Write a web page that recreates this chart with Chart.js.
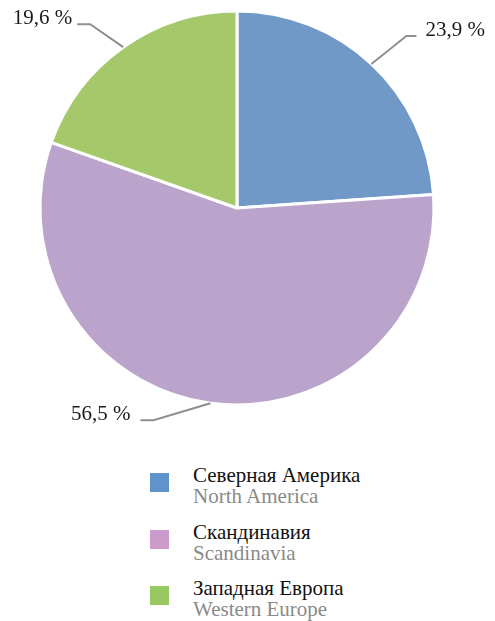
<!DOCTYPE html>
<html lang="ru">
<head>
<meta charset="utf-8">
<script src="https://cdn.jsdelivr.net/npm/chart.js@4/dist/chart.umd.min.js"></script>
<style>
  html, body { margin:0; padding:0; background:#fff; }
  body { width:495px; height:621px; position:relative; overflow:hidden; font-family:"Liberation Serif", "DejaVu Serif", serif; }
  #wrap { position:absolute; left:0; top:0; width:495px; height:440px; }
  #legenda { position:absolute; left:150px; top:464px; }
  .leg-item { display:flex; align-items:flex-start; height:44px; margin-bottom:12.5px; }
  .leg-cor { width:19px; height:19px; margin-top:9px; margin-right:24px; flex:none; }
  .leg-ru { font-size:21px; line-height:22px; color:#111; }
  .leg-en { font-size:21px; line-height:21px; color:#8a8a8a; }
</style>
</head>
<body>
<div id="wrap"><canvas id="grafico" width="495" height="440"></canvas></div>
<div id="legenda"></div>

<script>
// ─── DADOS ───────────────────────────────────────────────────────────────────
const regioesRu = ["Северная Америка", "Скандинавия", "Западная Европа"];
const regioesEn = ["North America", "Scandinavia", "Western Europe"];
const percentuais = [23.9, 56.5, 19.6];
const cores = ["#7199c8", "#bba4cb", "#a5c86a"];
const coresLegenda = ["#5f93cb", "#cc9acb", "#97c862"];

// leader lines: elbow offset from slice edge, horizontal tail, text gap
const guias = [
  { dx: 35, dy: -28, cauda: 10, gap: 9 },
  { dx: -57, dy: 17, cauda: 13, gap: 10 },
  { dx: -33, dy: -23, cauda: 13, gap: 5 }
];

function formatarPct(v){
  return v.toFixed(1).replace(".", ",") + " %";
}

// ─── RÓTULOS COM LINHAS ──────────────────────────────────────────────────────
const rotulosPlugin = {
  id: "rotulos",
  afterDatasetsDraw(chart){
    const ctx = chart.ctx;
    const meta = chart.getDatasetMeta(0);
    ctx.save();
    ctx.font = '21px "Liberation Serif", serif';
    ctx.fillStyle = "#1a1a1a";
    ctx.strokeStyle = "#8f8f8f";
    ctx.lineWidth = 2;
    meta.data.forEach((arc, i) => {
      const p = arc.getProps(["x", "y", "startAngle", "endAngle", "outerRadius"], true);
      const meio = (p.startAngle + p.endAngle) / 2;
      const bx = p.x + Math.cos(meio) * p.outerRadius;
      const by = p.y + Math.sin(meio) * p.outerRadius;
      const g = guias[i];
      const ex = bx + g.dx, ey = by + g.dy;
      const dir = g.dx >= 0 ? 1 : -1;
      const fx = ex + dir * g.cauda;
      ctx.beginPath();
      ctx.moveTo(bx, by);
      ctx.lineTo(ex, ey);
      ctx.lineTo(fx, ey);
      ctx.stroke();
      ctx.textAlign = dir > 0 ? "left" : "right";
      ctx.textBaseline = "alphabetic";
      ctx.fillText(formatarPct(percentuais[i]), fx + dir * g.gap, ey);
    });
    ctx.restore();
  }
};

// ─── GRÁFICO ─────────────────────────────────────────────────────────────────
const grafico = document.getElementById("grafico");
new Chart(grafico.getContext("2d"), {
  type: "pie",
  data: {
    labels: regioesRu,
    datasets: [{
      data: percentuais,
      backgroundColor: cores,
      borderColor: "#ffffff",
      borderWidth: 3
    }]
  },
  options: {
    responsive: false,
    animation: false,
    radius: 197,
    layout: { padding: { left: 0, right: 21, top: 0, bottom: 24 } },
    plugins: {
      legend: { display: false },
      tooltip: { enabled: false }
    }
  },
  plugins: [rotulosPlugin]
});

// ─── LEGENDA ─────────────────────────────────────────────────────────────────
document.getElementById("legenda").innerHTML = regioesRu.map((nome, i) => `
  <div class="leg-item">
    <span class="leg-cor" style="background:${coresLegenda[i]};"></span>
    <div>
      <div class="leg-ru">${nome}</div>
      <div class="leg-en">${regioesEn[i]}</div>
    </div>
  </div>`).join("");
</script>
</body>
</html>
